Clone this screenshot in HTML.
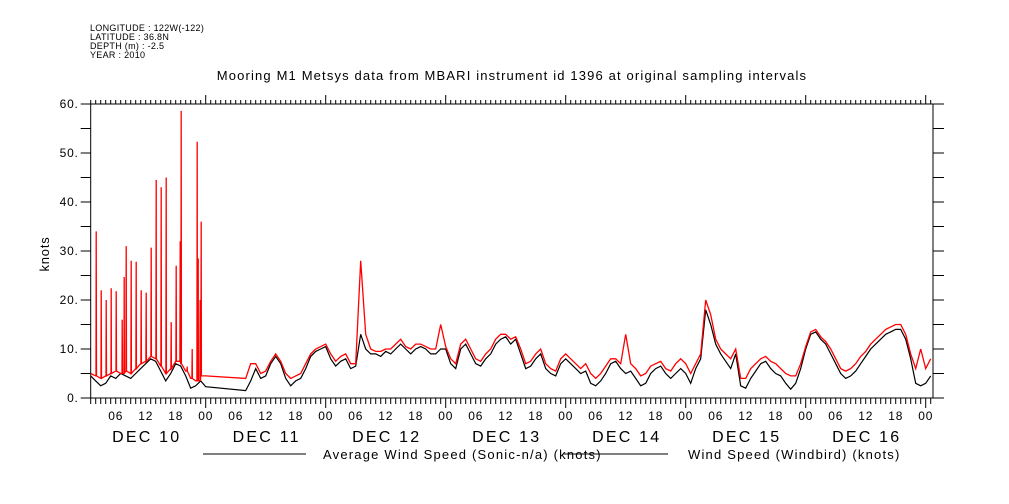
<!DOCTYPE html>
<html><head><meta charset="utf-8">
<style>
body{margin:0;background:#fff;}
svg{display:block;font-family:"Liberation Sans",sans-serif;}
</style></head>
<body>
<svg id="chart" width="1009" height="504" viewBox="0 0 1009 504" xmlns="http://www.w3.org/2000/svg">
<rect x="0" y="0" width="1009" height="504" fill="#fff"/>
<g font-size="9" fill="#000" letter-spacing="0.3">
<text x="90" y="31">LONGITUDE : 122W(-122)</text>
<text x="90" y="40">LATITUDE : 36.8N</text>
<text x="90" y="49">DEPTH (m) : -2.5</text>
<text x="90" y="58">YEAR : 2010</text>
</g>
<text x="512" y="80" font-size="13" letter-spacing="1.15" text-anchor="middle">Mooring M1 Metsys data from MBARI instrument id 1396 at original sampling intervals</text>
<text x="0" y="0" font-size="13" letter-spacing="0.8" text-anchor="middle" transform="translate(49,254) rotate(-90)">knots</text>
<g id="axes"></g>
<g id="series"></g>
<g>
<line x1="203" y1="454" x2="306" y2="454" stroke="#000"/>
<text x="323" y="459" font-size="13" letter-spacing="1.2">Average Wind Speed (Sonic-n/a) (knots)</text>
<line x1="563" y1="454" x2="668" y2="454" stroke="#000"/>
<text x="688" y="459" font-size="13" letter-spacing="1.2">Wind Speed (Windbird) (knots)</text>
</g>
</svg>
<script>
// ---- data (hours since DEC 10 00:00) ----
const hours = [1,2,3,4,5,6,7,8,9,10,11,12,13,14,15,16,17,18,19,20,21,22,23,24,
 32,33,34,35,36,37,38,39,40,41,42,43,44,45,46,47,
 48,49,50,51,52,53,54,55,56,57,58,59,60,61,62,63,64,65,66,67,68,69,70,71,
 72,73,74,75,76,77,78,79,80,81,82,83,84,85,86,87,88,89,90,91,92,93,94,95,
 96,97,98,99,100,101,102,103,104,105,106,107,108,109,110,111,112,113,114,115,116,117,118,119,
 120,121,122,123,124,125,126,127,128,129,130,131,132,133,134,135,136,137,138,139,140,141,142,143,
 144,145,146,147,148,149,150,151,152,153,154,155,156,157,158,159,160,161,162,163,164,165,166,167,168,169];
const avgSpeed = [4.5,3.5,2.5,3,4.5,4,5,4.5,4,5,6,7,8,7.5,5.5,3.5,5,7,6.5,4.5,2,2.5,3.5,2.3,
 1.5,3.5,6,4,4.5,7,8.5,7,4,2.5,3.5,4,6,8.5,9.5,10,
 10.5,8,6.5,7.5,8,6,6.5,13,10,9,9,8.5,9.5,9,10,11,10,9,10,10.5,10,9,9,10,
 10,7,6,10,11,9,7,6.5,8,9,11,12,12.5,11,12,9,6,6.5,8,9,6,5,4.5,7,
 8,7,6,5,5.5,3,2.5,3.5,5,7,7.5,6,5,5.5,4,2.5,3,5,6,6.5,5,4,5,6,
 5,3,6,8,18,15,11,9,7.5,6,9,2.5,2,4,5.5,7,7.5,6,5,4.5,3,1.8,3,6,
 10,13,13.5,12,11,9,7,5,4,4.5,5.5,7,8.5,10,11,12,13,13.5,14,14,12,8,3,2.5,3,4.5];
const windbird = [5,4.5,4,4.5,5,5.5,5,5.5,5,6,7,7.5,8.5,8,6.5,5,6,7.5,7,5.5,4,3.5,4.5,4.5,
 4,7,7,5,5.5,7.5,9,7.5,5,4,4.5,5,7,9,10,10.5,
 11,9,7.5,8.5,9,7,7,28,13,10,9.5,9.5,10,10,11,12,10.5,10,11,11,10.5,10,10,15,
 10.5,8,7,11,12,10,8,7.5,9,10,12,13,13,12,12.5,10,7,7.5,9,10,7,6,5.5,8,
 9,8,7,6,7,5,4,5,6.5,8,8,7,13,7,6,4.5,5,6.5,7,7.5,6,5.5,7,8,
 7,5,7,9,20,17,12,10,9,8,10,4,4,6,7,8,8.5,7.5,7,6,5,4.5,4.5,7,
 10.5,13.5,14,12.5,11.5,10,8,6,5.5,6,7,8.5,9.5,11,12,13,14,14.5,15,15,13,9,6,10,6,8];
const spikeHours = [2.1,3.1,4.1,5.1,6.1,7.3,7.7,8.1,9.1,10.1,11.1,12.1,13.1,14.1,15.1,16.1,17.1,18.1,18.9,19.1,20.3,21.3,22.3,22.5,22.9,23.1];
const spikeValues = [34,22,20,22.4,21.8,16,24.7,31,28,27.8,22,21.5,30.7,44.5,43,45,15.5,27,32,58.6,6.4,10,52.3,28.5,20,36];
const yTicks = [0,10,20,30,40,50,60];
const hourLabels = ["00","06","12","18"];
const dayLabels = ["DEC 10","DEC 11","DEC 12","DEC 13","DEC 14","DEC 15","DEC 16"];

// ---- scales ----
const X0=90.7, X1=933, Y0=398, Y1=104;
const H0=1.0, H1=169.46;
const yMax=60;
const xs = h => X0 + (h-H0)*(X1-X0)/(H1-H0);
const ys = v => Y0 - v*(Y0-Y1)/yMax;
const NS="http://www.w3.org/2000/svg";
function mk(tag, attrs, parent){const e=document.createElementNS(NS,tag);for(const k in attrs)e.setAttribute(k,attrs[k]);parent.appendChild(e);return e;}

const axes=document.getElementById('axes');
const frame=mk('rect',{x:X0,y:Y1,width:X1-X0,height:Y0-Y1,fill:'none',stroke:'#000','stroke-width':1},axes);



for(let v=0; v<=yMax; v+=5){
  const y=ys(v);
  const tl=mk('line',{x1:X0-10,y1:y,x2:X0,y2:y,stroke:'#000'},axes);
  
  
  const tr=mk('line',{x1:X1,y1:y,x2:X1+11,y2:y,stroke:'#000'},axes);
  
  
}
yTicks.forEach(v=>{
  const t=mk('text',{x:X0-12,y:ys(v)+4,'font-size':12,'letter-spacing':0.8,'text-anchor':'end'},axes);
  t.textContent=v+'.';
  
  
});

for(let h=1; h<=169; h++){
  const x=xs(h), major=(h%24===0);
  const b=mk('line',{x1:x,y1:Y0,x2:x,y2:Y0+(major?10:6),stroke:'#000'},axes);
  
  
  const t=mk('line',{x1:x,y1:Y1,x2:x,y2:Y1-(major?9:4),stroke:'#000'},axes);
  
  
  if(h%6===0){
    const lb=mk('text',{x:x,y:Y0+22,'font-size':12,'letter-spacing':0.8,'text-anchor':'middle'},axes);
    lb.textContent=hourLabels[(h%24)/6];
    
    
  }
}
dayLabels.forEach((d,i)=>{
  const t=mk('text',{x:xs(i*24+12)+1,y:Y0+44,'font-size':16,'letter-spacing':2.2,'text-anchor':'middle'},axes);
  t.textContent=d;
  
  
});

const ser=document.getElementById('series');
const blackPts=hours.map((h,i)=>xs(h).toFixed(1)+','+ys(avgSpeed[i]).toFixed(1)).join(' ');
const pb=mk('polyline',{points:blackPts,fill:'none',stroke:'#000','stroke-width':1.2},ser);



let red=hours.map((h,i)=>[h,windbird[i]]);
spikeHours.forEach((h,i)=>{
  let base=4.5;
  for(let j=0;j<hours.length-1;j++){ if(hours[j]<=h && hours[j+1]>=h){ base=windbird[j]; break; } }
  red.push([h-0.05,base]); red.push([h,spikeValues[i]]); red.push([h+0.05,base]);
});
red.sort((a,b)=>a[0]-b[0]);
const pr=mk('polyline',{points:red.map(p=>xs(p[0]).toFixed(1)+','+ys(p[1]).toFixed(1)).join(' '),fill:'none',stroke:'#f00','stroke-width':1.3},ser);


</script>
</body></html>
